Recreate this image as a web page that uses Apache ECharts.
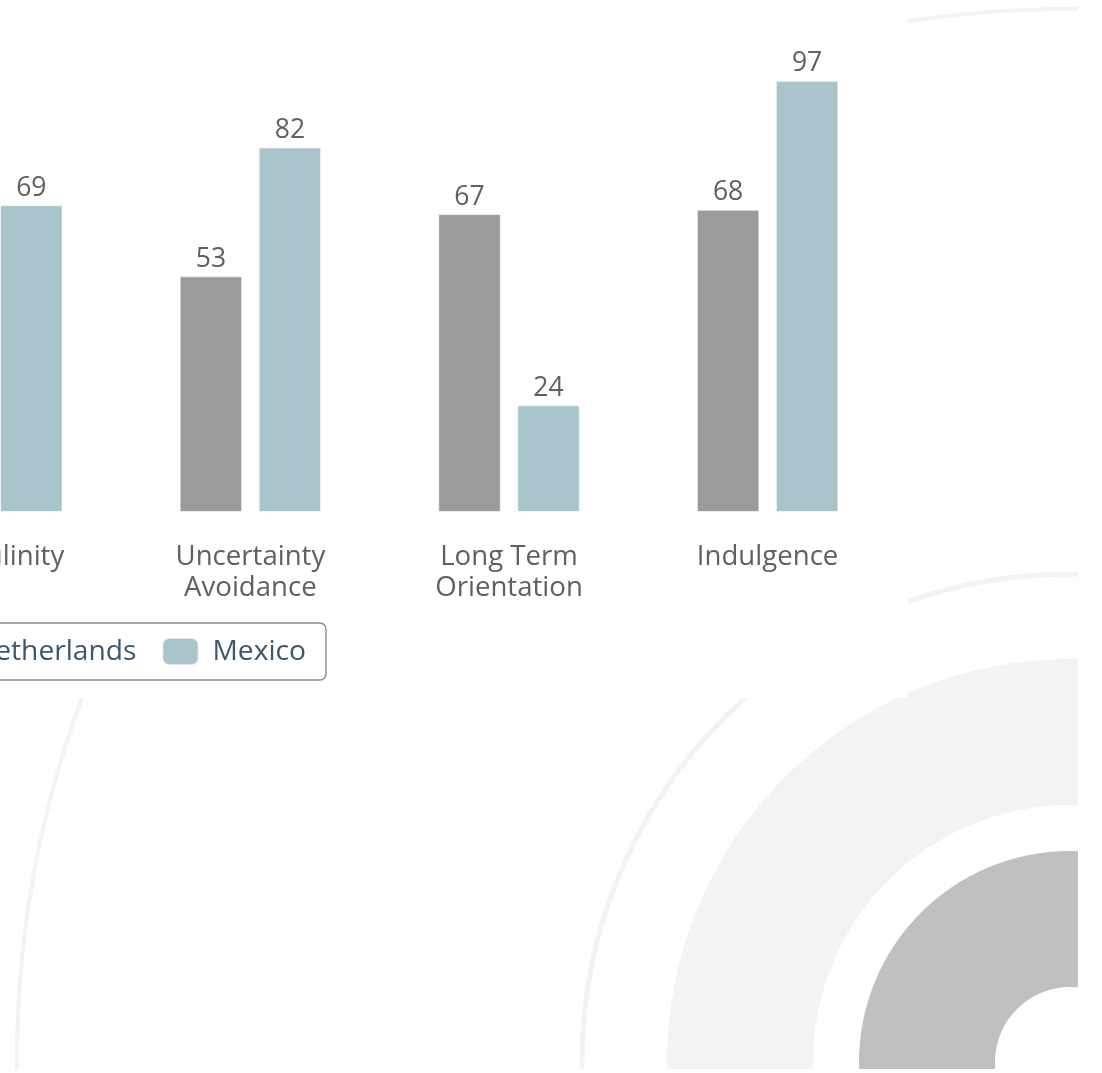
<!DOCTYPE html>
<html>
<head>
<meta charset="utf-8">
<script src="https://cdn.jsdelivr.net/npm/echarts@6/dist/echarts.min.js"></script>
<style>
  html, body { margin: 0; padding: 0; background: #fff; overflow: hidden; }
  /* the view is a crop of a wider chart: shift the canvas left */
  #chart { position: absolute; left: -300px; top: 0; width: 1402px; height: 1073px; }
</style>
</head>
<body>
<div id="chart"></div>
<script>
const categories = ['Masculinity', 'Uncertainty\nAvoidance', 'Long Term\nOrientation', 'Indulgence']
// first Netherlands bar sits outside the crop
const netherlands = [14, 53, 67, 68]
const mexico = [69, 82, 24, 97]
const seriesNames = ['Netherlands', 'Mexico']

const OX = 300 // crop offset
const FONT = '"Open Sans", "Noto Sans", sans-serif'
const CX = 1070 + OX
const CY = 1062

const chart = echarts.init(document.getElementById('chart'))

function barSeries(name, data, color) {
  return {
    name,
    type: 'bar',
    data,
    barWidth: 62.5,
    barGap: '26.4%',
    itemStyle: { color, borderColor: 'rgba(255,255,255,0.6)', borderWidth: 1 },
    label: {
      show: true,
      position: 'top',
      distance: 4,
      color: '#606060',
      fontFamily: FONT,
      fontSize: 26.5,
      lineHeight: 26,
    },
  }
}

chart.setOption({
  animation: false,
  backgroundColor: '#fff',
  grid: { left: 162.5, top: 67.4, width: 1034.4, height: 444.6 },
  xAxis: {
    type: 'category',
    data: categories,
    axisLine: { show: false },
    axisTick: { show: false },
    axisLabel: {
      color: '#606060',
      fontFamily: FONT,
      fontSize: 27.6,
      lineHeight: 31,
      margin: 30,
    },
  },
  yAxis: { type: 'value', min: 0, max: 100, show: false },
  legend: {
    data: seriesNames,
    right: 1402 - 626,
    top: 623,
    padding: [14, 20, 14, 20],
    itemWidth: 36,
    itemHeight: 27,
    itemGap: 25,
    icon: 'roundRect',
    borderColor: '#8a8a8a',
    borderWidth: 1.4,
    borderRadius: 6,
    textStyle: {
      color: '#3e576f',
      fontFamily: FONT,
      fontSize: 28.2,
      lineHeight: 27,
      padding: [0, 0, 0, 9],
    },
  },
  graphic: [
    // background rings
    { type: 'circle', z: -3, shape: { cx: CX, cy: CY, r: 1053 }, style: { fill: 'none', stroke: '#f3f3f3', lineWidth: 4 } },
    { type: 'circle', z: -3, shape: { cx: CX, cy: CY, r: 488 }, style: { fill: 'none', stroke: '#f3f3f3', lineWidth: 5 } },
    { type: 'ring', z: -3, shape: { cx: CX, cy: CY, r: 403, r0: 257 }, style: { fill: '#f3f3f3' } },
    { type: 'ring', z: -3, shape: { cx: CX, cy: CY, r: 211, r0: 75 }, style: { fill: '#c0c0c0' } },
    // white masks that cut the rings
    { type: 'rect', z: -2, shape: { x: 0, y: 0, width: 908 + OX, height: 698 }, style: { fill: '#fff' } },
    { type: 'rect', z: -2, shape: { x: 1078 + OX, y: 0, width: 100, height: 1073 }, style: { fill: '#fff' } },
    { type: 'rect', z: -2, shape: { x: 0, y: 1069, width: 1402, height: 10 }, style: { fill: '#fff' } },
  ],
  series: [
    barSeries(seriesNames[0], netherlands, '#9c9a9c'),
    barSeries(seriesNames[1], mexico, '#aac4cb'),
  ],
})
</script>
</body>
</html>
